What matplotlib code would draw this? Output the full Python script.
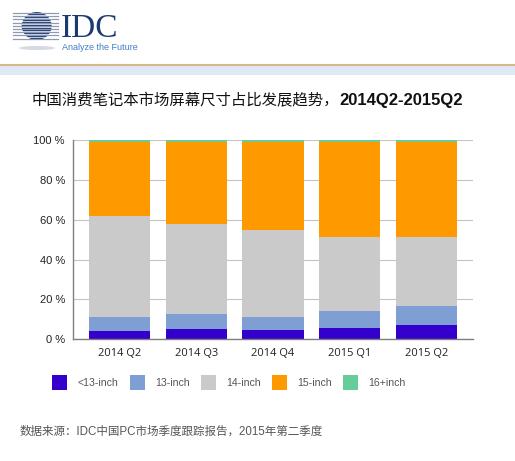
import matplotlib.pyplot as plt
import matplotlib.patches as mpatches
import numpy as np

plt.rcParams['font.family'] = ['Liberation Sans', 'Noto Sans CJK SC']

# data (share of shipments, %)
quarters = ['2014 Q2', '2014 Q3', '2014 Q4', '2015 Q1', '2015 Q2']
series = ['<13-inch', '13-inch', '14-inch', '15-inch', '16+inch']
under13 = [4.3, 5.2, 4.8, 5.8, 7.3]
inch13 = [7.0, 7.6, 6.4, 8.4, 9.6]
inch14 = [50.7, 44.9, 43.6, 37.1, 34.6]
inch15 = [37.2, 41.3, 44.0, 47.7, 47.3]
inch16 = [0.8, 1.0, 1.2, 1.0, 1.2]
colors = ['#3300cc', '#7f9fd4', '#cacaca', '#ff9900', '#66cc99']

fig = plt.figure(figsize=(5.15, 4.61), dpi=100)

# header: logo + bands
W, H = 515, 461
def fx(px): return px / W
def fy(py): return 1 - py / H

fig.add_artist(mpatches.Rectangle((0, fy(75)), 1, fy(66) - fy(75), transform=fig.transFigure,
                                  color='#dfe8f5', lw=0))
fig.add_artist(plt.Line2D([0, 1], [fy(65.5), fy(65.5)], transform=fig.transFigure,
                          color='#d6b887', lw=1.5))

# globe
fig.add_artist(mpatches.Ellipse((fx(37), fy(48)), 36 / W, 4 / H, transform=fig.transFigure,
                                color='#d5d9e2', lw=0))
for yy in np.arange(13, 41, 3.2):
    fig.add_artist(plt.Line2D([fx(13), fx(58)], [fy(yy), fy(yy)], transform=fig.transFigure,
                              color='#8f9ab0', lw=0.9))
fig.add_artist(mpatches.Ellipse((fx(36.7), fy(26)), 30 / W, 28 / H, transform=fig.transFigure,
                                color='#1f3f7a', lw=0))
for yy in np.arange(14.6, 39, 3.2):
    fig.add_artist(plt.Line2D([fx(22), fx(52)], [fy(yy), fy(yy)], transform=fig.transFigure,
                              color='white', lw=0.7, alpha=0.75))
fig.text(fx(61), fy(37), 'IDC', family='Liberation Serif', fontsize=24, color='#1b3a72',
         va='baseline', ha='left')
fig.text(fx(62), fy(48), 'Analyze the Future', fontsize=6.5, color='#3f7fc4',
         va='center', ha='left')

# title
t1 = fig.text(fx(32), fy(101), '中国消费笔记本市场屏幕尺寸占比发展趋势，',
              fontsize=11.1, color='#111111', va='center')
fig.canvas.draw()
bb = t1.get_window_extent()
fig.text(bb.x1 / fig.bbox.width, fy(101), '2014Q2-2015Q2', fontsize=12,
         fontweight='bold', color='#111111', va='center')

# chart
ax = fig.add_axes([fx(73.3), fy(339.3), fx(472.7) - fx(73.3), fy(140) - fy(339.3)])
x = np.arange(len(quarters))
bottom = np.zeros(len(quarters))
for vals, c in zip([under13, inch13, inch14, inch15, inch16], colors):
    ax.bar(x, vals, 0.8, bottom=bottom, color=c, zorder=3, lw=0)
    bottom += np.array(vals)

ax.set_xlim(-0.607, 4.606)
ax.set_ylim(0, 100)
ax.set_yticks(range(0, 101, 20))
ax.set_yticklabels([f'{v} %' for v in range(0, 101, 20)], fontsize=8, color='#222222')
ax.set_xticks(x)
ax.set_xticklabels(quarters, family='Open Sans', fontsize=8, color='#222222')
ax.tick_params(length=0, pad=6)
ax.grid(axis='y', color='#c4c4c4', lw=0.8, zorder=0)
for s in ['top', 'right']:
    ax.spines[s].set_visible(False)
for s in ['left', 'bottom']:
    ax.spines[s].set_color('#808080')
    ax.spines[s].set_linewidth(1)
    ax.spines[s].set_zorder(4)

# legend
legend_x = [52, 130, 201, 272, 343]
for x0, name, c in zip(legend_x, series, colors):
    fig.add_artist(mpatches.Rectangle((fx(x0), fy(390)), 15 / W, 15 / H,
                                      transform=fig.transFigure, color=c, lw=0))
    fig.text(fx(x0 + 25), fy(383), name, fontsize=7.6, color='#555555', va='center')

# source
fig.text(fx(20), fy(432), '数据来源：IDC中国PC市场季度跟踪报告，2015年第二季度',
         fontsize=8.3, color='#555555', va='center')

fig.savefig('out.png', dpi=100)
